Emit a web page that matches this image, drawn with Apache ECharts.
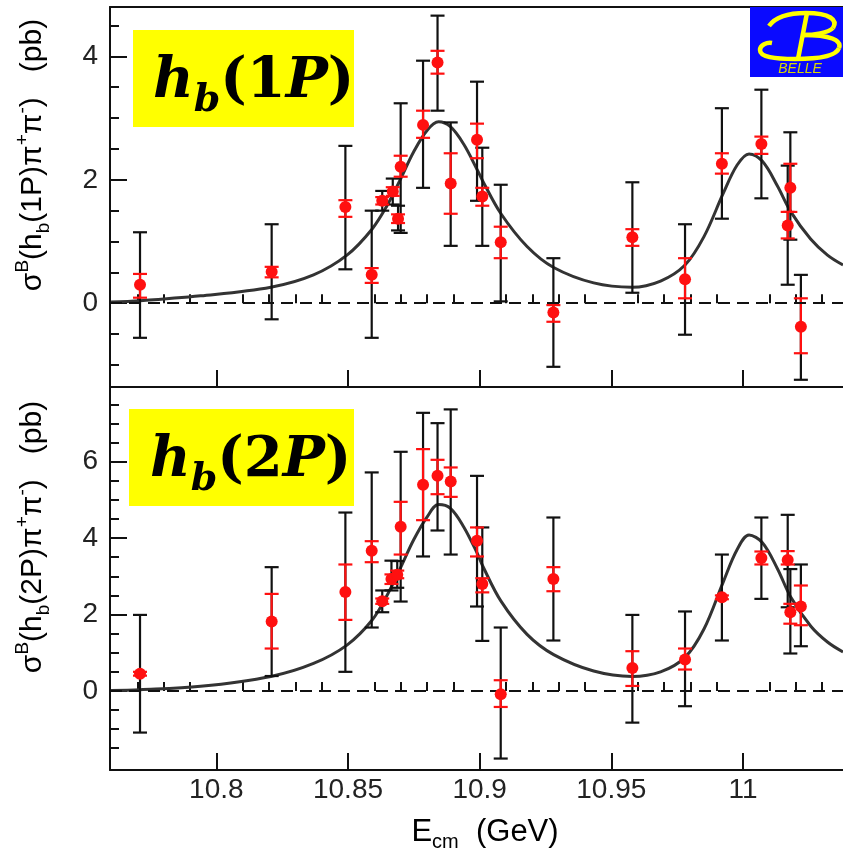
<!DOCTYPE html>
<html>
<head>
    <meta charset="utf-8">
    <script src="https://cdn.jsdelivr.net/npm/echarts@6.0.0/dist/echarts.min.js"></script>
    <style>
        html, body { margin: 0; padding: 0; background: #fff; }
    </style>
</head>
<body>
    <div id="main" style="width: 843px;height:854px;"></div>
    <script type="text/javascript">
        // 上图 h_b(1P) 数据：能量、截面、黑色误差棒(低/高)、红色误差棒(低/高)
        var e1 = [10.771, 10.821, 10.849, 10.859, 10.863, 10.867, 10.869, 10.870, 10.8785, 10.884, 10.889,
                  10.899, 10.901, 10.908, 10.928, 10.958, 10.978, 10.992, 11.007, 11.018, 11.017, 11.022];
        var v1 = [0.30, 0.51, 1.56, 0.46, 1.66, 1.81, 1.37, 2.21, 2.89, 3.90, 1.94,
                  2.65, 1.73, 0.99, -0.15, 1.07, 0.39, 2.26, 2.58, 1.87, 1.26, -0.38];
        var blackLo1 = [-0.56, -0.26, 0.55, -0.56, 1.50, 1.60, 1.18, 1.14, 1.87, 3.12, 0.93,
                        1.66, 0.93, 0.03, -1.03, 0.17, -0.51, 1.37, 1.70, 1.03, 0.30, -1.24];
        var blackHi1 = [1.15, 1.28, 2.55, 1.50, 1.82, 2.02, 1.58, 3.24, 3.93, 4.66, 2.93,
                        3.59, 2.52, 1.92, 0.73, 1.96, 1.28, 3.16, 3.46, 2.77, 2.23, 0.46];
        var redLo1 = [0.09, 0.42, 1.40, 0.33, 1.60, 1.74, 1.30, 2.05, 2.68, 3.72, 1.45,
                      2.35, 1.58, 0.73, -0.30, 0.93, 0.08, 2.10, 2.42, 1.48, 1.05, -0.81];
        var redHi1 = [0.475, 0.59, 1.67, 0.57, 1.72, 1.88, 1.44, 2.39, 3.12, 4.09, 2.43,
                      2.91, 1.87, 1.24, -0.03, 1.20, 0.73, 2.43, 2.70, 2.26, 1.48, 0.08];

        // 下图 h_b(2P) 数据
        var e2 = [10.771, 10.821, 10.849, 10.859, 10.863, 10.8665, 10.8687, 10.870, 10.8785, 10.884, 10.889,
                  10.899, 10.901, 10.908, 10.928, 10.958, 10.978, 10.992, 11.007, 11.017, 11.018, 11.022];
        var v2 = [0.45, 1.82, 2.59, 3.67, 2.35, 2.93, 3.04, 4.30, 5.40, 5.63, 5.48,
                  3.93, 2.80, -0.09, 2.93, 0.60, 0.82, 2.45, 3.48, 3.43, 2.06, 2.21];
        var blackLo2 = [-1.09, 0.39, 0.50, 1.66, 2.06, 2.63, 2.70, 2.34, 3.52, 4.20, 3.57,
                        2.21, 1.31, -1.77, 1.32, -0.83, -0.40, 1.32, 2.41, 2.19, 0.98, 1.17];
        var blackHi2 = [1.99, 3.24, 4.67, 5.72, 2.63, 3.41, 3.40, 6.26, 7.28, 7.01, 7.37,
                        5.63, 4.28, 1.66, 4.54, 1.99, 2.08, 3.57, 4.54, 4.61, 3.19, 3.31];
        var redLo2 = [0.40, 1.11, 1.86, 3.37, 2.28, 2.80, 2.95, 3.57, 4.47, 5.15, 5.08,
                      3.52, 2.58, -0.42, 2.61, 0.13, 0.56, 2.40, 3.31, 3.31, 1.76, 1.72];
        var redHi2 = [0.50, 2.54, 3.31, 3.92, 2.42, 3.05, 3.15, 4.95, 6.33, 6.05, 5.85,
                      4.28, 2.95, 0.28, 3.24, 1.04, 1.11, 2.50, 3.65, 3.66, 2.28, 2.76];

        // 拟合曲线
        var curveE = [10.76, 10.771, 10.794, 10.8207, 10.8369, 10.8496, 10.8591, 10.8648, 10.8698, 10.8749, 10.88,
                      10.8844, 10.8889, 10.8939, 10.8991, 10.9013, 10.9081, 10.918, 10.9281, 10.9433, 10.9579,
                      10.9687, 10.978, 10.9852, 10.9925, 10.9978, 11.0023, 11.0074, 11.0131, 11.0182, 11.0257,
                      11.0321, 11.038];
        var curve1 = [0.02, 0.04, 0.12, 0.26, 0.46, 0.78, 1.20, 1.58, 2.00, 2.45, 2.80,
                      2.94, 2.86, 2.58, 2.16, 1.97, 1.45, 0.92, 0.58, 0.33, 0.26,
                      0.36, 0.62, 1.08, 1.78, 2.24, 2.42, 2.30, 1.90, 1.48, 1.04,
                      0.78, 0.62];
        var curve2 = [0.01, 0.03, 0.12, 0.38, 0.72, 1.20, 1.85, 2.50, 3.20, 3.95, 4.55,
                      4.88, 4.78, 4.30, 3.60, 3.25, 2.35, 1.48, 0.95, 0.52, 0.38,
                      0.50, 0.88, 1.62, 2.85, 3.70, 4.08, 3.88, 3.20, 2.45, 1.70,
                      1.28, 1.02];

        // 刻度
        var xMajor = [10.8, 10.85, 10.9, 10.95, 11];
        var xMinor = [10.77, 10.78, 10.79, 10.81, 10.82, 10.83, 10.84, 10.86, 10.87, 10.88, 10.89,
                      10.91, 10.92, 10.93, 10.94, 10.96, 10.97, 10.98, 10.99, 11.01, 11.02, 11.03];
        var y1Major = [0, 2, 4];
        var y1Minor = [-1, -0.5, 0.5, 1, 1.5, 2.5, 3, 3.5, 4.5];
        var y2Major = [0, 2, 4, 6];
        var y2Minor = [-1.5, -1, -0.5, 0.5, 1, 1.5, 2.5, 3, 3.5, 4.5, 5, 5.5, 6.5, 7, 7.5];

        var xMin = 10.7596, xMax = 11.038;
        var font = 'Liberation Sans, Arial, sans-serif';

        var myChart = echarts.init(document.getElementById('main'));

        function zip(e, v, lo, hi) {
            return e.map(function (x, i) { return [x, v[i], lo[i], hi[i]]; });
        }
        function pairs(e, v) {
            return e.map(function (x, i) { return [x, v[i]]; });
        }

        // 误差棒
        function errorBar(color, cap) {
            return function (params, api) {
                var x = api.value(0);
                var lo = api.coord([x, api.value(2)]);
                var hi = api.coord([x, api.value(3)]);
                var style = { stroke: color, lineWidth: 2.2 };
                return {
                    type: 'group',
                    children: [
                        { type: 'line', shape: { x1: lo[0], y1: lo[1], x2: hi[0], y2: hi[1] }, style: style },
                        { type: 'line', shape: { x1: lo[0] - cap, y1: lo[1], x2: lo[0] + cap, y2: lo[1] }, style: style },
                        { type: 'line', shape: { x1: hi[0] - cap, y1: hi[1], x2: hi[0] + cap, y2: hi[1] }, style: style }
                    ]
                };
            };
        }

        function xAxisDef(grid, ticks, len, opts) {
            var a = {
                type: 'value', gridIndex: grid, min: xMin, max: xMax, position: 'bottom',
                splitLine: { show: false },
                axisLine: { show: true, onZero: false, lineStyle: { color: '#111', width: 2 } },
                axisTick: { show: true, inside: true, length: len, customValues: ticks, lineStyle: { color: '#111', width: 2 } },
                axisLabel: { show: false }
            };
            return Object.assign(a, opts || {});
        }
        function yAxisDef(grid, min, max, ticks, len, opts) {
            var a = {
                type: 'value', gridIndex: grid, min: min, max: max, position: 'left',
                splitLine: { show: false },
                axisLine: { show: true, onZero: false, lineStyle: { color: '#111', width: 2 } },
                axisTick: { show: true, inside: true, length: len, customValues: ticks, lineStyle: { color: '#111', width: 2 } },
                axisLabel: { show: false }
            };
            return Object.assign(a, opts || {});
        }

        var tickLabel = { fontFamily: font, fontSize: 28, color: '#222' };

        function panelSeries(xi, yi, e, v, bLo, bHi, rLo, rHi, curve) {
            return [
                {
                    type: 'line', xAxisIndex: xi, yAxisIndex: yi,
                    data: pairs(curveE, curve), smooth: 0.35, symbol: 'none',
                    lineStyle: { color: '#333', width: 3 },
                    markLine: {
                        silent: true, symbol: 'none', label: { show: false },
                        lineStyle: { color: '#111', width: 2, type: [12, 7] },
                        data: [{ yAxis: 0 }]
                    },
                    z: 2
                },
                {
                    type: 'custom', xAxisIndex: xi, yAxisIndex: yi,
                    data: zip(e, v, bLo, bHi), renderItem: errorBar('#111', 7), z: 3
                },
                {
                    type: 'custom', xAxisIndex: xi, yAxisIndex: yi,
                    data: zip(e, v, rLo, rHi), renderItem: errorBar('#ff1010', 7), z: 4
                },
                {
                    type: 'scatter', xAxisIndex: xi, yAxisIndex: yi,
                    data: pairs(e, v), symbol: 'circle', symbolSize: 12,
                    itemStyle: { color: '#ff1010', opacity: 1 }, z: 5
                }
            ];
        }

        var supRich = {
            n: { fontFamily: font, fontSize: 30, lineHeight: 40, color: '#222' },
            sup: { fontFamily: font, fontSize: 19, lineHeight: 19, verticalAlign: 'top', color: '#222' },
            sub: { fontFamily: font, fontSize: 19, lineHeight: 19, verticalAlign: 'bottom', color: '#222' }
        };
        var labelRich = {
            i: { fontFamily: 'DejaVu Serif', fontStyle: 'italic', fontWeight: 'bold', fontSize: 56, lineHeight: 76, color: '#000' },
            r: { fontFamily: 'DejaVu Serif', fontWeight: 'bold', fontSize: 56, lineHeight: 76, color: '#000' },
            s: { fontFamily: 'DejaVu Serif', fontStyle: 'italic', fontWeight: 'bold', fontSize: 38, lineHeight: 38, verticalAlign: 'bottom', color: '#000' }
        };

        // BELLE 标志里的 B 笔画（三次贝塞尔）
        var logoStroke = { stroke: '#ffff00', lineWidth: 4.5, fill: null };
        function bez(p) {
            return { type: 'bezierCurve', z: 11, style: logoStroke,
                     shape: { x1: p[0], y1: p[1], cpx1: p[2], cpy1: p[3], cpx2: p[4], cpy2: p[5], x2: p[6], y2: p[7] } };
        }

        var option = {
            backgroundColor: '#fff',
            animation: false,
            grid: [
                { left: 110, right: 0, top: 7, height: 380 },
                { left: 110, right: 0, top: 388, height: 382 }
            ],
            xAxis: [
                xAxisDef(0, xMajor, 17),
                xAxisDef(0, xMinor, 9, { axisLine: { show: false } }),
                xAxisDef(0, [], 0, { position: 'top', axisTick: { show: false } }),
                xAxisDef(1, xMajor, 17, {
                    axisLabel: Object.assign({ show: true, margin: 6, customValues: xMajor }, tickLabel)
                }),
                xAxisDef(1, xMinor, 9, { axisLine: { show: false } })
            ],
            yAxis: [
                yAxisDef(0, -1.357, 4.8, y1Major, 17, {
                    axisLabel: Object.assign({ show: true, margin: 12, customValues: y1Major }, tickLabel)
                }),
                yAxisDef(0, -1.357, 4.8, y1Minor, 9, { axisLine: { show: false } }),
                yAxisDef(1, -2.07, 7.93, y2Major, 17, {
                    axisLabel: Object.assign({ show: true, margin: 12, customValues: y2Major }, tickLabel)
                }),
                yAxisDef(1, -2.07, 7.93, y2Minor, 9, { axisLine: { show: false } })
            ],
            series: panelSeries(0, 0, e1, v1, blackLo1, blackHi1, redLo1, redHi1, curve1)
                .concat(panelSeries(3, 2, e2, v2, blackLo2, blackHi2, redLo2, redHi2, curve2)),
            graphic: [
                // 黄色标签
                { type: 'rect', shape: { x: 133, y: 30, width: 221, height: 97 }, style: { fill: '#ffff00' }, z: 10 },
                { type: 'text', x: 153, y: 82, z: 11,
                  style: { text: '{i|h}{s|b}{r|(1}{i|P}{r|)}', rich: labelRich, verticalAlign: 'middle', align: 'left' } },
                { type: 'rect', shape: { x: 129, y: 409, width: 225, height: 97 }, style: { fill: '#ffff00' }, z: 10 },
                { type: 'text', x: 150, y: 461, z: 11,
                  style: { text: '{i|h}{s|b}{r|(2}{i|P}{r|)}', rich: labelRich, verticalAlign: 'middle', align: 'left' } },
                // 坐标轴标题
                { type: 'text', x: 33, y: 155, rotation: Math.PI / 2, z: 11,
                  style: { text: '{n|σ}{sup|B}{n|(h}{sub|b}{n|(1P)π}{sup|+}{n|π}{sup|-}{n|)   (pb)}', rich: supRich, align: 'center', verticalAlign: 'middle' } },
                { type: 'text', x: 33, y: 537, rotation: Math.PI / 2, z: 11,
                  style: { text: '{n|σ}{sup|B}{n|(h}{sub|b}{n|(2P)π}{sup|+}{n|π}{sup|-}{n|)   (pb)}', rich: supRich, align: 'center', verticalAlign: 'middle' } },
                { type: 'text', x: 485, y: 832, z: 11,
                  style: { text: '{n|E}{sub|cm}{n|  (GeV)}',
                           rich: {
                               n: { fontFamily: font, fontSize: 31, lineHeight: 40, color: '#222' },
                               sub: { fontFamily: font, fontSize: 20, lineHeight: 20, verticalAlign: 'bottom', color: '#222' }
                           },
                           align: 'center', verticalAlign: 'middle' } },
                // BELLE 标志
                { type: 'rect', shape: { x: 750, y: 7, width: 93, height: 70 }, style: { fill: '#0a0aff' }, z: 10 },
                bez([769, 26, 776, 16, 790, 13, 806, 13]),
                bez([806, 13, 830, 13, 838, 20, 833, 28]),
                bez([833, 28, 828, 33, 814, 35, 803, 35]),
                bez([803, 35, 830, 35, 842, 40, 839, 48]),
                bez([839, 48, 836, 57, 815, 59, 795, 59]),
                bez([795, 59, 774, 59, 760, 57, 760, 50]),
                bez([760, 50, 760, 45, 767, 42, 772, 43]),
                { type: 'line', z: 11, shape: { x1: 807, y1: 13, x2: 798, y2: 59 }, style: logoStroke },
                { type: 'text', x: 800, y: 69, z: 11,
                  style: { text: 'BELLE', fontFamily: font, fontStyle: 'italic', fontSize: 14, fill: '#d8d800', align: 'center', verticalAlign: 'middle' } }
            ]
        };
        myChart.setOption(option);
    </script>
</body>
</html>
